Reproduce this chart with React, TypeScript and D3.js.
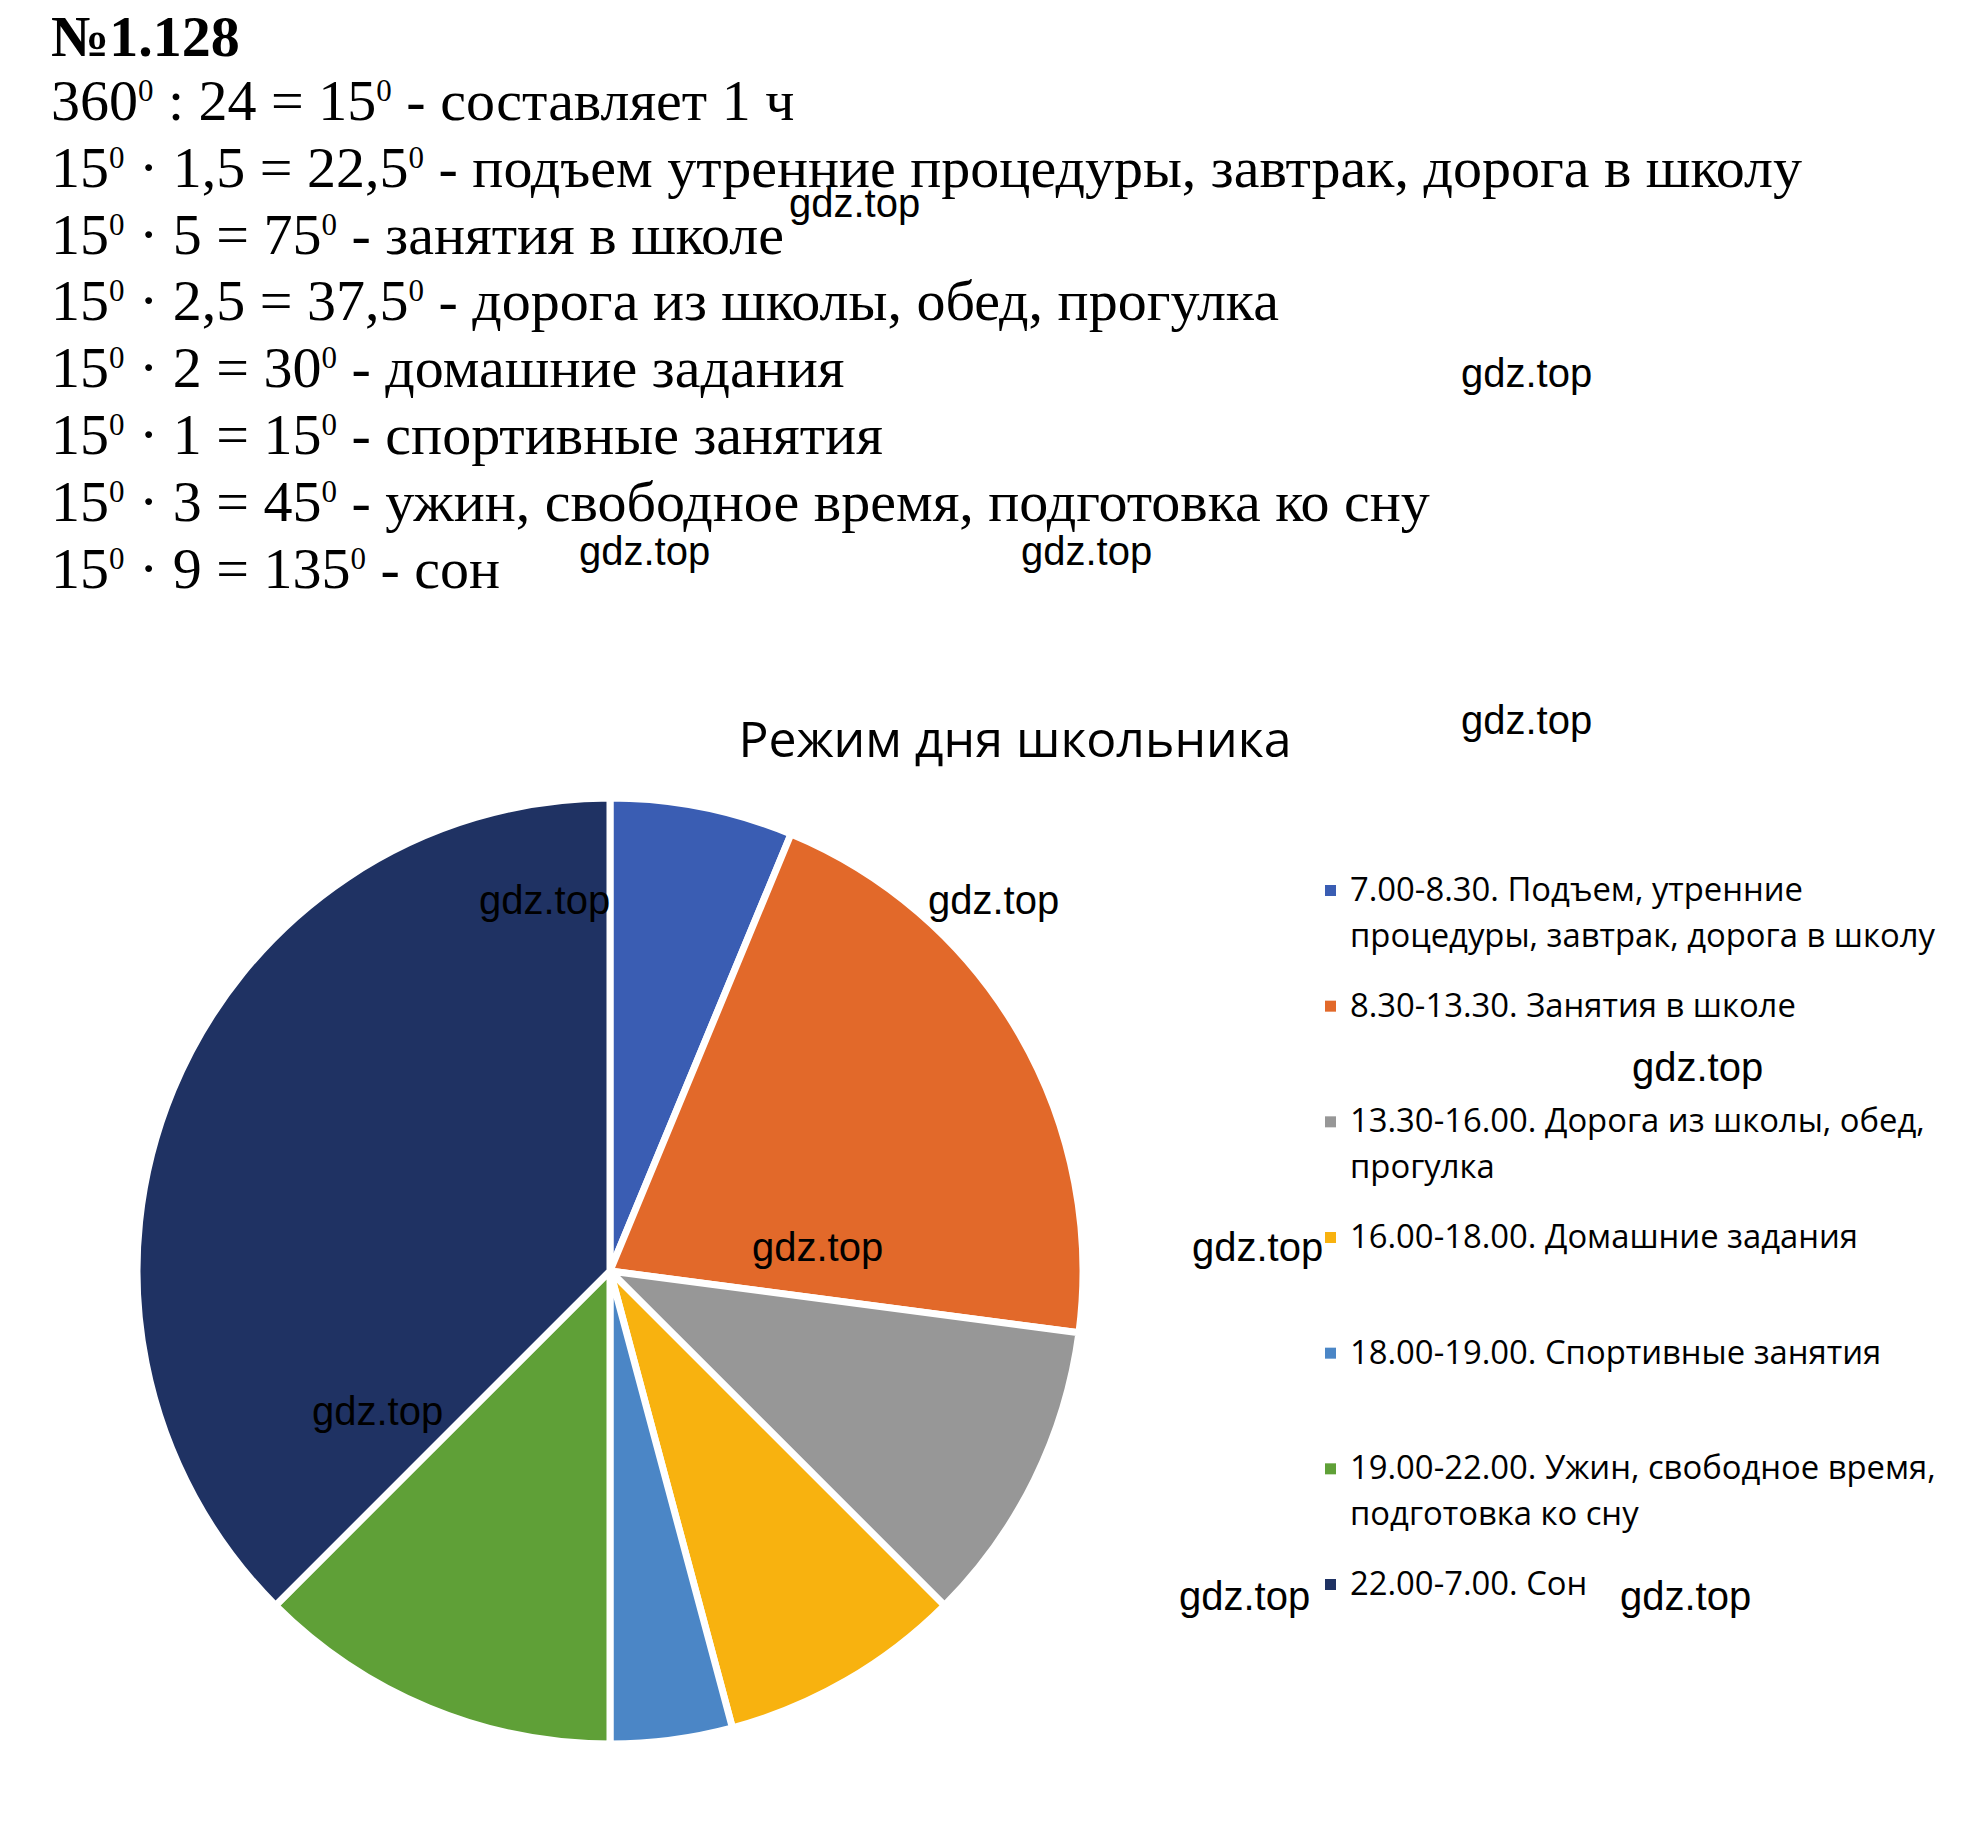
import React from "react";
import * as d3 from "d3";

// ---- data ----
const legendLabels: string[][] = [
  ["7.00-8.30. Подъем, утренние", "процедуры, завтрак, дорога в школу"],
  ["8.30-13.30. Занятия в школе"],
  ["13.30-16.00. Дорога из школы, обед,", "прогулка"],
  ["16.00-18.00. Домашние задания"],
  ["18.00-19.00. Спортивные занятия"],
  ["19.00-22.00. Ужин, свободное время,", "подготовка ко сну"],
  ["22.00-7.00. Сон"],
];
const hours: number[] = [1.5, 5, 2.5, 2, 1, 3, 9];
const colors: string[] = ["#3A5DB3", "#E2692A", "#979797", "#F8B20F", "#4B86C6", "#5FA037", "#1F3263"];
const activities: string[] = [
  "подъем утренние процедуры, завтрак, дорога в школу",
  "занятия в школе",
  "дорога из школы, обед, прогулка",
  "домашние задания",
  "спортивные занятия",
  "ужин, свободное время, подготовка ко сну",
  "сон",
];
const heading = "№1.128";
const firstLine = "360^ : 24 = 15^ - составляет 1 ч";
const chartTitle = "Режим дня школьника";
const watermark = "gdz.top";
const watermarkSpots: [number, number][] = [
  [789, 217], [1461, 387], [579, 565], [1021, 565], [1461, 734],
  [479, 914], [928, 914], [1632, 1081], [752, 1261], [1192, 1261],
  [312, 1425], [1179, 1610], [1620, 1610],
];

const fmt = (v: number) => String(v).replace(".", ",");
const calcLines = [firstLine].concat(
  hours.map((h, i) => `15^ · ${fmt(h)} = ${fmt(15 * h)}^ - ${activities[i]}`)
);

const SUP_SHIFT = 19;

function SupText({ s, x, y }: { s: string; x: number; y: number }) {
  const parts = s.split("^");
  const out: React.ReactNode[] = [];
  parts.forEach((p, i) => {
    out.push(
      <tspan key={"p" + i} dy={i > 0 ? SUP_SHIFT : undefined}>{p}</tspan>
    );
    if (i < parts.length - 1) {
      out.push(
        <tspan key={"s" + i} fontSize={31} dy={-SUP_SHIFT}>0</tspan>
      );
    }
  });
  return (
    <text x={x} y={y} fontFamily="'Liberation Serif', 'Times New Roman', serif" fontSize={58} fill="#000" xmlSpace="preserve">
      {out}
    </text>
  );
}

export default function App() {
  const W = 1988, H = 1830;
  const cx = 610, cy = 1271, R = 473;
  const pie = d3.pie<number>().sort(null).value((d) => d).startAngle(0).endAngle(2 * Math.PI);
  const arcs = pie(hours);
  const arc = d3.arc<d3.PieArcDatum<number>>().innerRadius(0).outerRadius(R);

  const legendY = d3.scaleLinear().domain([0, legendLabels.length - 1]).range([901, 1595]);
  const lineGap = 46;

  return (
    <svg width={W} height={H} style={{ position: "absolute", left: 0, top: 0, background: "#fff" }}>
      <rect width={W} height={H} fill="#fff" />
      <text x={51} y={56} fontFamily="'Liberation Serif', 'Times New Roman', serif" fontWeight="bold" fontSize={58} fill="#000">
        {heading}
      </text>
      {calcLines.map((l, i) => (
        <SupText key={i} s={l} x={51} y={120 + i * 66.8} />
      ))}

      <text x={1015} y={757} textAnchor="middle" fontFamily="'Open Sans', sans-serif" fontSize={50} fill="#000">
        {chartTitle}
      </text>

      <g transform={`translate(${cx},${cy})`}>
        {arcs.map((a, i) => (
          <path key={i} d={arc(a) || ""} fill={colors[i]} stroke="#fff" strokeWidth={7} strokeLinejoin="round" />
        ))}
      </g>

      {legendLabels.map((lines, i) => {
        const by = legendY(i);
        return (
          <g key={i}>
            <rect x={1325} y={by - 16} width={11} height={11} fill={colors[i]} />
            {lines.map((ln, j) => (
              <text key={j} x={1350} y={by + j * lineGap} fontFamily="'Open Sans', sans-serif" fontSize={32.8} fill="#000">
                {ln}
              </text>
            ))}
          </g>
        );
      })}

      {watermarkSpots.map(([x, y], i) => (
        <text key={i} x={x} y={y} fontFamily="'Liberation Sans', Arial, sans-serif" fontSize={40} fill="#000">
          {watermark}
        </text>
      ))}
    </svg>
  );
}
